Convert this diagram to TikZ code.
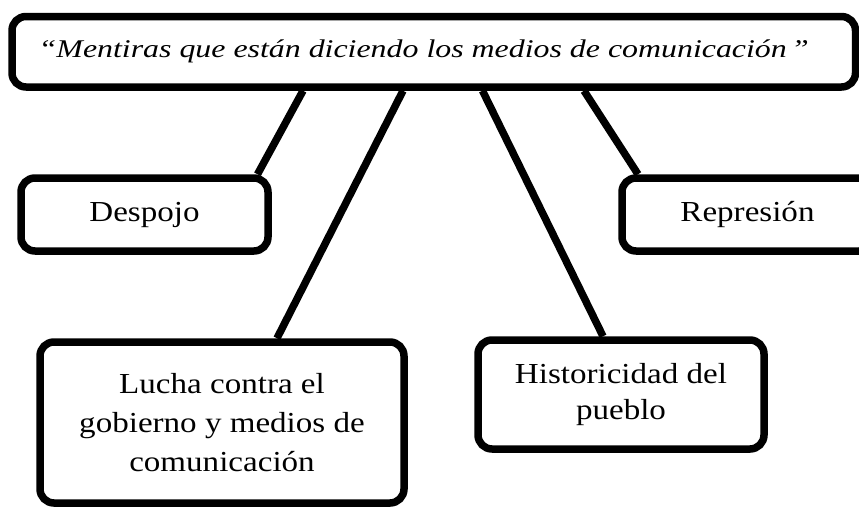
\documentclass[tikz,border=0pt]{standalone}
\usepackage{fontspec}
\setmainfont[FakeStretch=1.14]{Liberation Serif}
\newfontfamily\titulofont[FakeStretch=1.25]{Liberation Serif}
\usetikzlibrary{calc}
\begin{document}
\begin{tikzpicture}[x=1pt, y=-1pt,
		caja/.style={draw, line width=7.5pt, rounded corners=14pt, inner sep=0pt, align=center, font=\fontsize{29}{39}\selectfont},
		linea/.style={line width=7.5pt}]
			\useasboundingbox (0,0) rectangle (859,506);
			% Titulo
			\node[caja, minimum width=843.5pt, minimum height=70.5pt, font=\titulofont\fontsize{25.5}{30}\selectfont\itshape] (titulo) at (433.75,51.75) {“Mentiras que están diciendo los medios de comunicación\,”\hspace*{20pt}};
			
			% Cajas
			\node[caja, minimum width=247pt, minimum height=73pt] (despojo) at (144.5,214.5) {Despojo};
			\node[caja, minimum width=251pt, minimum height=73pt] (represion) at (747.5,214.5) {Represión};
			\node[caja, minimum width=364pt, minimum height=161pt] (lucha) at (222,422.5) {Lucha contra el\\gobierno y medios de\\comunicación};
			\node[caja, minimum width=286pt, minimum height=109pt, font=\fontsize{29}{36}\selectfont] (historia) at (621,394.5) {Historicidad del\\pueblo};
			
			% Lineas
			\draw[linea] ($(titulo.south)+(-130.75,0)$) -- ($(despojo.north)+(113,0)$);
			\draw[linea] ($(titulo.south)+(-30.75,0)$) -- ($(lucha.north)+(55,0)$);
			\draw[linea] ($(titulo.south)+(48.75,0)$) -- ($(historia.north)+(-18,0)$);
			\draw[linea] ($(titulo.south)+(150.25,0)$) -- ($(represion.north)+(-109.5,0)$);
		\end{tikzpicture}
\end{document}
